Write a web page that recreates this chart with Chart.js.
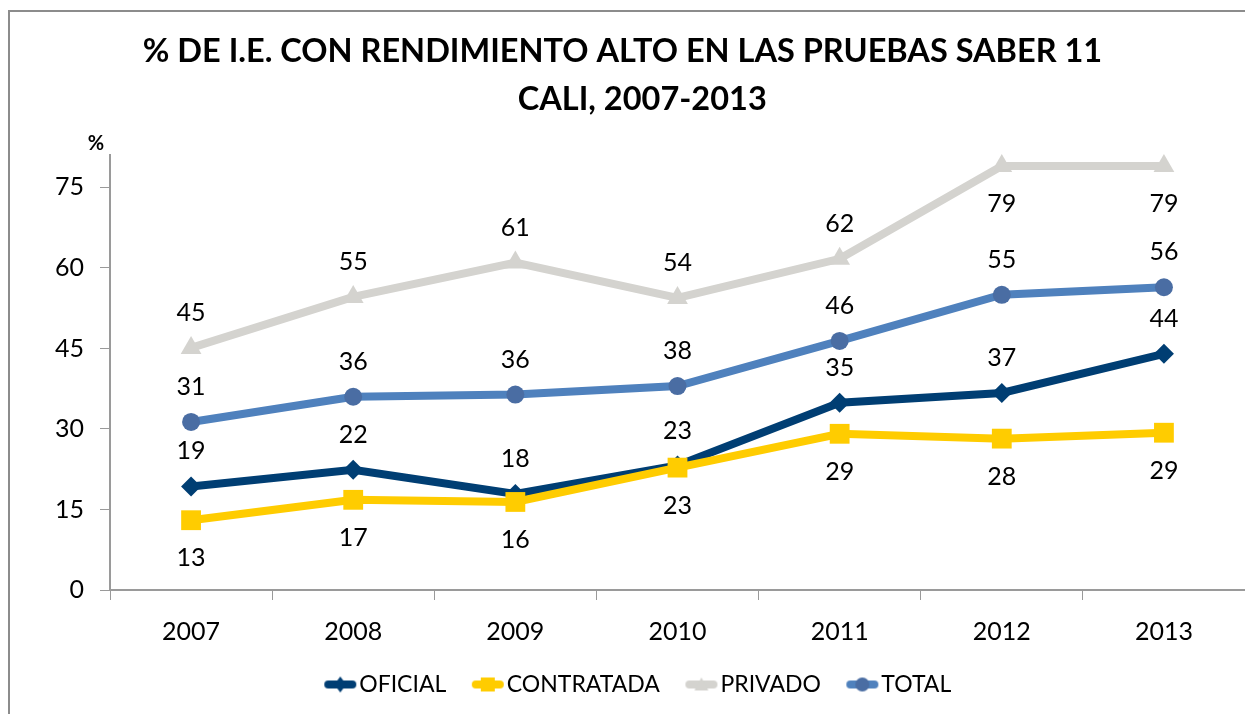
<!DOCTYPE html>
<html>
<head>
<meta charset="utf-8">
<script src="https://cdn.jsdelivr.net/npm/chart.js@4/dist/chart.umd.min.js"></script>
<style>
  html, body { margin: 0; padding: 0; background: #fff; overflow: hidden; }
  #chart { position: absolute; left: 0; top: 0; }
</style>
</head>
<body>
<canvas id="chart" width="1245" height="714"></canvas>
<script>
const years      = ['2007', '2008', '2009', '2010', '2011', '2012', '2013'];
const oficial    = [19.3, 22.4, 17.9, 23.2, 34.9, 36.7, 44.0];
const contratada = [13.0, 16.8, 16.4, 22.8, 29.1, 28.2, 29.3];
const privado    = [45.1, 54.6, 61.0, 54.4, 61.7, 79.0, 79.0];
const total      = [31.3, 36.0, 36.4, 38.0, 46.4, 55.0, 56.4];
const yTicks     = [0, 15, 30, 45, 60, 75];

const FONT = 'Lato, "Open Sans", sans-serif';
const LEGEND_SIZE = 23;
const LEGEND_BOX = 24;

// legend glyph: thick line with the marker, pushed to the right edge of the image
// so it sits right against the label text
function legendGlyph(lineColor, markColor, shape) {
  const c = document.createElement('canvas');
  c.width = LEGEND_BOX + LEGEND_SIZE;
  c.height = 20;
  const g = c.getContext('2d');
  const x0 = c.width - 3 - 32;
  g.strokeStyle = lineColor; g.lineWidth = 8; g.lineCap = 'round';
  g.beginPath(); g.moveTo(x0 + 4, 10); g.lineTo(x0 + 28, 10); g.stroke();
  g.fillStyle = markColor;
  g.beginPath();
  const cx = x0 + 16;
  if (shape === 'diamond') { g.moveTo(cx, 2); g.lineTo(cx + 6, 10); g.lineTo(cx, 18); g.lineTo(cx - 6, 10); }
  else if (shape === 'square') { g.rect(cx - 7, 3, 14, 14); }
  else if (shape === 'triangle') { g.moveTo(cx, 3); g.lineTo(cx + 7, 16); g.lineTo(cx - 7, 16); }
  else { g.arc(cx, 10, 7, 0, Math.PI * 2); }
  g.closePath(); g.fill();
  return c;
}

const series = [
  { label: 'OFICIAL',    data: oficial,    color: '#003E73', mark: '#003E73', style: 'rectRot',  glyph: 'diamond',  radius: 10, pos: 'above' },
  { label: 'CONTRATADA', data: contratada, color: '#FFCC00', mark: '#FFCC00', style: 'rect',     glyph: 'square',   radius: 14, pos: 'below' },
  { label: 'PRIVADO',    data: privado,    color: '#D4D3CF', mark: '#D4D3CF', style: 'triangle', glyph: 'triangle', radius: 12, pos: 'above' },
  { label: 'TOTAL',      data: total,      color: '#4F81BD', mark: '#4A6DA3', style: 'circle',   glyph: 'circle',   radius: 9,  pos: 'above' }
];

const extras = {
  id: 'extras',
  afterLayout(chart) {
    // the legend row sits a little right of centre in the original
    const lg = chart.legend;
    if (lg) { lg.left += 30; lg.width -= 30; }
  },
  beforeDraw(chart) {
    // outer frame of the chart object (left and top edges only are visible)
    const ctx = chart.ctx;
    ctx.save();
    ctx.fillStyle = '#fff';
    ctx.fillRect(0, 0, chart.width, chart.height);
    ctx.strokeStyle = '#8c8c8c';
    ctx.lineWidth = 2;
    ctx.beginPath();
    ctx.moveTo(9, chart.height);
    ctx.lineTo(9, 11);
    ctx.lineTo(chart.width, 11);
    ctx.stroke();
    ctx.restore();
  },
  afterDatasetsDraw(chart) {
    const ctx = chart.ctx;
    ctx.save();
    ctx.font = '25px ' + FONT;
    ctx.fillStyle = '#000';
    ctx.textAlign = 'center';
    ctx.textBaseline = 'middle';
    chart.data.datasets.forEach((ds, i) => {
      const meta = chart.getDatasetMeta(i);
      meta.data.forEach((pt, j) => {
        const v = ds.data[j];
        const below = ds.labelPos === 'below' || v > 75;
        ctx.fillText(String(Math.round(v)), pt.x, pt.y + (below ? 38 : -35));
      });
    });
    // unit marker above the value axis
    ctx.font = 'bold 20px ' + FONT;
    ctx.fillText('%', chart.chartArea.left - 14, chart.chartArea.top - 12);
    ctx.restore();
  },
  afterDraw(chart) {
    // no closing edge on the right side of the plot
    const ctx = chart.ctx;
    const a = chart.chartArea;
    ctx.save();
    ctx.fillStyle = '#fff';
    ctx.fillRect(a.right - 4, 13, 4, a.bottom - 14);
    ctx.restore();
  }
};

new Chart(document.getElementById('chart'), {
  type: 'line',
  data: {
    labels: years,
    datasets: series.map((s, i) => ({
      label: s.label,
      data: s.data,
      borderColor: s.color,
      backgroundColor: s.color,
      borderWidth: 8,
      tension: 0,
      fill: false,
      pointStyle: s.style,
      pointRadius: s.radius,
      pointHoverRadius: s.radius,
      pointBackgroundColor: s.mark,
      pointBorderColor: s.mark,
      pointBorderWidth: 0,
      clip: false,
      order: 4 - i,
      labelPos: s.pos,
      glyph: legendGlyph(s.color, s.mark, s.glyph)
    }))
  },
  options: {
    responsive: false,
    animation: false,
    layout: { autoPadding: false, padding: { left: 0, right: 0, top: 0, bottom: 8 } },
    scales: {
      x: {
        offset: true,
        afterFit(axis) { axis.height = 58; },
        grid: { offset: true, drawOnChartArea: false, drawTicks: true, tickLength: 10, color: '#9a9a9a', tickColor: '#9a9a9a' },
        border: { display: true, color: '#9a9a9a', width: 2 },
        ticks: { color: '#000', font: { size: 25, family: FONT }, padding: 17, maxRotation: 0 }
      },
      y: {
        min: 0,
        max: 81,
        afterBuildTicks(axis) { axis.ticks = yTicks.map(v => ({ value: v })); },
        afterFit(axis) { axis.width = 110; },
        grid: { drawOnChartArea: false, drawTicks: true, tickLength: 10, color: '#9a9a9a', tickColor: '#9a9a9a' },
        border: { display: true, color: '#9a9a9a', width: 2 },
        ticks: { color: '#000', font: { size: 25, family: FONT }, padding: 16 }
      }
    },
    plugins: {
      title: {
        display: true,
        text: ['% DE I.E. CON RENDIMIENTO ALTO EN LAS PRUEBAS SABER 11', '     CALI, 2007-2013'],
        color: '#000',
        font: { size: 32.5, weight: 'bold', family: FONT, lineHeight: 1.48 },
        padding: { top: 27, bottom: 32 }
      },
      legend: {
        position: 'bottom',
        labels: {
          color: '#000',
          font: { size: LEGEND_SIZE, family: FONT },
          usePointStyle: true,
          pointStyleWidth: LEGEND_BOX,
          boxHeight: 20,
          padding: 25,
          generateLabels(chart) {
            return chart.data.datasets.map((ds, i) => ({
              text: ds.label,
              datasetIndex: i,
              pointStyle: ds.glyph,
              fillStyle: ds.borderColor,
              strokeStyle: ds.borderColor,
              lineWidth: 0,
              fontColor: '#000',
              hidden: false
            }));
          }
        }
      },
      tooltip: { enabled: false }
    }
  },
  plugins: [extras]
});
</script>
</body>
</html>
